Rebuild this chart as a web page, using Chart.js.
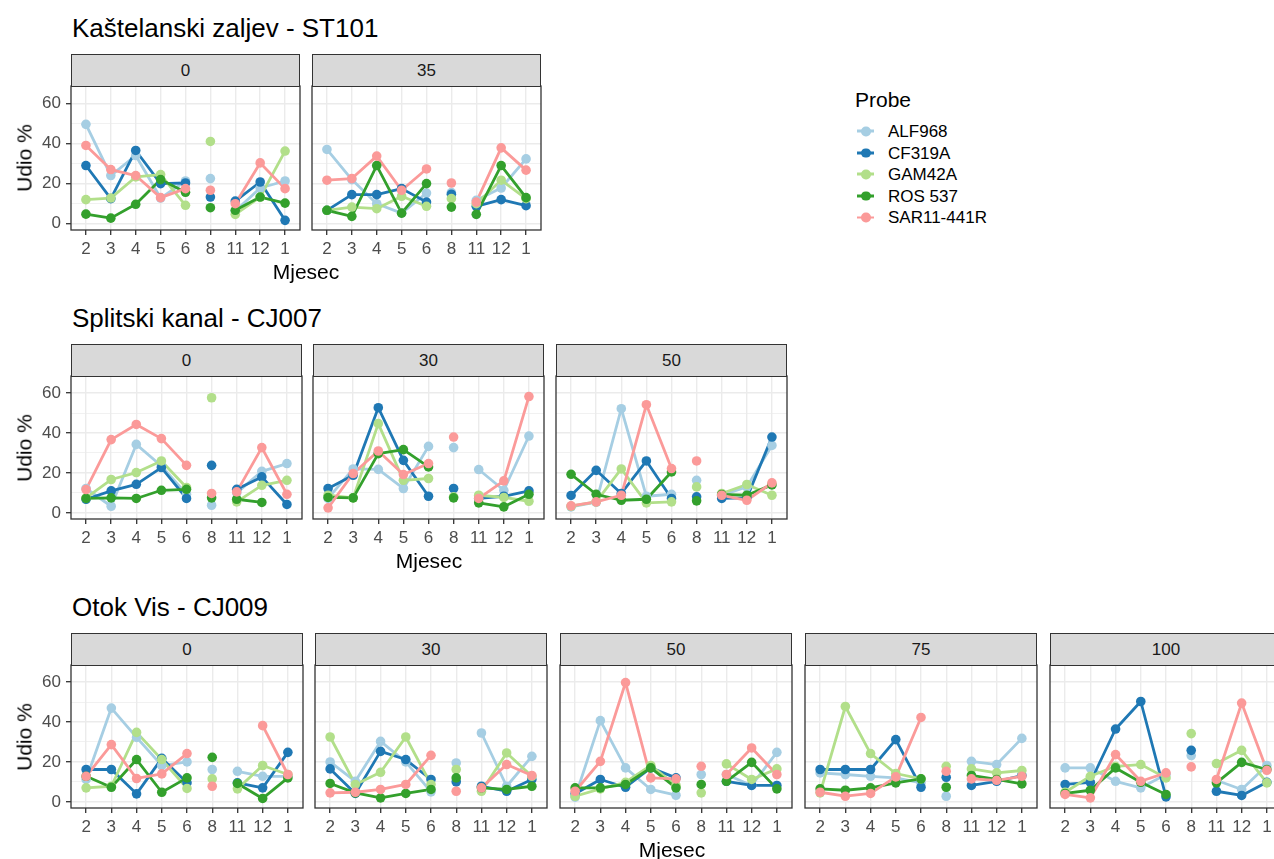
<!DOCTYPE html>
<html>
<head>
<meta charset="utf-8">
<script src="https://cdn.jsdelivr.net/npm/chart.js@4.4.1/dist/chart.umd.min.js"></script>
<style>
  body { margin: 0; background: #fff; width: 1274px; height: 859px; position: relative; overflow: hidden;
         font-family: "Liberation Sans", Arial, sans-serif; }
  .t { position: absolute; white-space: nowrap; line-height: 1; transform: translateY(-50%); }
  .title { font-size: 26px; color: #000; }
  .axis-title { font-size: 21px; color: #000; }
  .strip { position: absolute; box-sizing: border-box; background: #d9d9d9; border: 1.3px solid #333;
           font-size: 17px; color: #1a1a1a; display: flex; align-items: center; justify-content: center; }
  .key { position: absolute; width: 17px; height: 9px; transform: translateY(-50%); }
  .key i { position: absolute; left: 0; top: 3.2px; width: 17px; height: 2.8px; }
  .key b { position: absolute; left: 4px; top: 0; width: 9.5px; height: 9.5px; border-radius: 50%; }
  canvas { position: absolute; }
</style>
</head>
<body>
<script>
// start: data
const months = ['2', '3', '4', '5', '6', '8', '11', '12', '1']
const probes = ['ALF968', 'CF319A', 'GAM42A', 'ROS 537', 'SAR11-441R']
const probeColors = ['#a6cee3', '#1f78b4', '#b2df8a', '#33a02c', '#fb9a99']
const yMajor = [0, 20, 40, 60]
const yMinor = [10, 30, 50]
const lineBreaks = [4, 5]   // no samples in months 7, 9, 10

// rows: ALF968, CF319A, GAM42A, ROS 537, SAR11-441R
const st101_0 = [
    [49.5, 24, 34, 12.8, 21.3, 22.5, 6.3, 17.8, 21.3],
    [29, 12.5, 36.5, 20, 20.3, 13.3, 11.3, 20.8, 1.7],
    [12, 12.8, 23.3, 24.5, 9.2, 41, 4.7, 13.3, 36.2],
    [4.8, 2.8, 9.7, 22, 15.7, 8, 6.7, 13.3, 10.3],
    [39, 27, 24, 13, 17.5, 16.7, 10, 30.3, 17.5]
]
const st101_35 = [
    [37, 22, 10, 5.3, 15.3, 15.5, 11.7, 17.8, 32.3],
    [6.7, 14.5, 14.5, 17.5, 10.8, 14.7, 8.7, 12, 9],
    [6.7, 8.3, 7.5, 13.7, 8.7, 12.5, 10, 21.7, 12.5],
    [6.7, 3.7, 29, 5.3, 20, 8.3, 4.7, 29, 13],
    [21.7, 22.5, 33.7, 16.7, 27.3, 20.3, 10.8, 37.8, 26.7]
]
const cj007_0 = [
    [12.2, 3.3, 34.3, 23.5, 9.3, 3.8, 10, 20.8, 24.7],
    [6.8, 11, 14.3, 22.7, 7.2, 23.8, 11.8, 18, 4.2],
    [7.5, 16.7, 20.2, 26, 12.7, 57.7, 5.5, 13.8, 16.3],
    [7.2, 7.5, 7.2, 11.3, 11.8, 7.5, 6.8, 5.2, null],
    [11.7, 36.7, 44.3, 37.2, 23.8, 9.7, 10.5, 32.7, 9.3]
]
const cj007_30 = [
    [7.2, 22, 21.8, 12.2, 33.3, 32.7, 21.7, 11.3, 38.5],
    [12.2, 18.8, 52.7, 26.3, 8.3, 12.2, 7.2, 8.3, 11],
    [8.8, 7.5, 44.7, 16.3, 17.2, 8, 8.8, 7.7, 5.8],
    [7.7, 7.5, 29.7, 31.7, 23, 7.5, 5, 3, 9.3],
    [2.5, 19.7, 31, 19.2, 24.7, 38, 7.2, 16, 58.3]
]
const cj007_50 = [
    [3, 5.3, 52.2, 8.3, 9.3, 16.3, 8.8, 13, 33.8],
    [8.7, 21.3, 9.7, 26, 7.2, 8, 7.2, 7.5, 38],
    [3.3, 5.5, 22, 5, 5.5, 13, 9.7, 14.2, 8.8],
    [19.3, 9.3, 6.3, 6.8, 20.5, 6, 9.2, 8.8, 14],
    [3.5, 5.5, 8.8, 54.2, 22.2, 26, 8.8, 6.3, 15]
]
const cj009_0 = [
    [11.2, 47, 32.3, 18.2, 20, 16.2, 15.3, 12.8, 12.8],
    [16.2, 16.2, 4, 21.8, 9.5, null, 9.5, 7, 24.8],
    [7, 7.8, 34.8, 21.2, 6.7, 11.5, 6.5, 18.2, 13.7],
    [12.8, 7.3, 21.2, 4.8, 12, 22.3, 9.2, 1.7, 12],
    [12.8, 28.7, 11.7, 14, 24.2, 7.8, null, 38.2, 13.7]
]
const cj009_30 = [
    [20, 10.3, 30.3, 20, 5, 19.5, 34.5, 7.8, 22.8],
    [16.5, 4.2, 25.3, 21.2, 11.2, 10, 7.8, 5.3, 11.2],
    [32.5, 8.7, 14.8, 32.5, 8.7, 16.2, 5.3, 24.5, 12.8],
    [9.2, 4.5, 2, 4.2, 6.2, 12, 7, 6.2, 7.8],
    [4.5, 4.8, 6.2, 8.7, 23.3, 5.3, 7, 18.7, 13.2]
]
const cj009_50 = [
    [2.3, 40.7, 17, 6.2, 3.3, 13.7, 13.7, 8.2, 24.8],
    [4, 11.2, 7.3, 17, 12, null, 10.3, 8.2, 8.2],
    [2.8, 6.5, 9.8, 18.2, 8.2, 4.5, 19, 11.2, 16.5],
    [7, 7, 8.7, 17, 7, 8.7, 10.3, 19.8, 6.5],
    [5.3, 20.3, 59.8, 12, 11.5, 17.8, 13.7, 27, 13.7]
]
const cj009_75 = [
    [14.5, 13.7, 12.8, 12, 9.5, 2.8, 20.3, 18.7, 31.8],
    [16.2, 16.2, 16.2, 31.2, 7.3, 12.3, 8.2, 10.3, 13.2],
    [4.5, 47.8, 24.2, 14.2, 11.5, 17.8, 16.5, 14.5, 15.7],
    [6.5, 5.8, 7, 9.5, 11.5, 7.3, 13.2, 11.2, 9],
    [4.8, 2.8, 4.2, 12.5, 42.3, 15.3, 11.5, 10.8, 12.8]
]
const cj009_100 = [
    [17, 17, 10.3, 7, 13.7, 23.2, 10.8, 6.2, 18.2],
    [8.7, 9.8, 36.5, 50.3, 2.5, 25.8, 5.3, 3.2, 9.8],
    [4.8, 12.8, 17.8, 18.7, 12, 34.2, 19.2, 25.8, 9.5],
    [4.2, 5.8, 17, 9.8, 3.7, null, 9.5, 19.8, 16.2],
    [3.7, 2, 23.7, 10.3, 14.5, 17.5, 11.2, 49.5, 15.8]
]
// end: data

const rows = [
    { title: 'Kaštelanski zaljev - ST101', top: 86, bottom: 230, lefts: [71, 312], width: 229, mid: 306,
      depths: ['0', '35'], data: [st101_0, st101_35] },
    { title: 'Splitski kanal - CJ007', top: 376, bottom: 519, lefts: [71, 313, 556], width: 231, mid: 429,
      depths: ['0', '30', '50'], data: [cj007_0, cj007_30, cj007_50] },
    { title: 'Otok Vis - CJ009', top: 665, bottom: 808, lefts: [71, 315, 560, 805, 1050], width: 232, mid: 672,
      depths: ['0', '30', '50', '75', '100'], data: [cj009_0, cj009_30, cj009_50, cj009_75, cj009_100] }
]

Chart.defaults.font.family = '"Liberation Sans", Arial, sans-serif'
Chart.defaults.animation = false

const panelBorder = {
    id: 'panelBorder',
    afterDraw(chart) {
        const a = chart.chartArea, ctx = chart.ctx
        ctx.save()
        ctx.strokeStyle = '#333'
        ctx.lineWidth = 1.3
        ctx.strokeRect(a.left, a.top, a.right - a.left, a.bottom - a.top)
        ctx.restore()
    }
}

function addText(cls, text, x, y) {
    const d = document.createElement('div')
    d.className = 't ' + cls
    d.textContent = text
    d.style.left = x + 'px'
    d.style.top = y + 'px'
    document.body.appendChild(d)
    return d
}

// kill the label overhang padding so every panel keeps the same plot box
function noPad(sc) {
    sc.paddingTop = 0
    sc.paddingBottom = 0
    sc.paddingLeft = 0
    sc.paddingRight = 0
}

function makePanel(row, i) {
    const first = i === 0
    const padL = first ? 0 : 2
    const yW = first ? 51 : 0
    const xH = 30
    const cv = document.createElement('canvas')
    cv.width = yW + padL + row.width + 2
    cv.height = row.bottom - row.top + 2 + xH
    cv.style.left = (row.lefts[i] - yW - padL) + 'px'
    cv.style.top = (row.top - 2) + 'px'
    document.body.appendChild(cv)

    // strip
    const s = document.createElement('div')
    s.className = 'strip'
    s.textContent = row.depths[i]
    s.style.left = row.lefts[i] + 'px'
    s.style.top = (row.top - 32) + 'px'
    s.style.width = row.width + 'px'
    s.style.height = '33px'
    document.body.appendChild(s)

    const values = row.data[i]
    const datasets = []
    probes.forEach(function (p, k) {
        const pts = months.map(function (m, j) { return { x: j, y: values[k][j] } })
        const col = probeColors[k]
        datasets.push({
            label: p, data: pts, borderColor: col, borderWidth: 2.8, pointRadius: 0,
            borderJoinStyle: 'round', order: 20 - k,
            segment: { borderColor: function (c) { return lineBreaks.includes(c.p0DataIndex) ? 'transparent' : col } }
        })
        datasets.push({
            label: p, data: pts, showLine: false, pointRadius: 4.8, pointHoverRadius: 4.8,
            backgroundColor: col, borderColor: col, pointBorderWidth: 0, order: 10 - k
        })
    })

    new Chart(cv, {
        type: 'line',
        data: { datasets: datasets },
        plugins: [panelBorder],
        options: {
            responsive: false,
            devicePixelRatio: 1,
            layout: { autoPadding: false, padding: { top: 2, right: 2, left: padL, bottom: 0 } },
            plugins: { legend: { display: false }, tooltip: { enabled: false } },
            events: [],
            scales: {
                x: {
                    type: 'linear', min: -0.6, max: 8.6,
                    afterBuildTicks: function (sc) { sc.ticks = months.map(function (m, j) { return { value: j } }) },
                    afterFit: function (sc) { sc.height = xH; noPad(sc) },
                    border: { display: false },
                    grid: { color: '#ebebeb', lineWidth: 1.4, tickColor: '#333', tickLength: 5, tickWidth: 1.3 },
                    ticks: {
                        autoSkip: false, maxRotation: 0, padding: 4, color: '#4d4d4d', font: { size: 17 },
                        callback: function (v) { return months[v] }
                    }
                },
                y: {
                    min: -3.1, max: 68.6,
                    afterBuildTicks: function (sc) {
                        sc.ticks = yMajor.concat(yMinor).sort(function (a, b) { return a - b }).map(function (v) { return { value: v } })
                    },
                    afterFit: function (sc) { sc.width = yW; noPad(sc) },
                    border: { display: false },
                    grid: {
                        color: '#ebebeb', drawTicks: first, tickLength: 5, tickWidth: 1.3,
                        lineWidth: function (c) { return yMajor.includes(c.tick.value) ? 1.4 : 0.7 },
                        tickColor: function (c) { return yMajor.includes(c.tick.value) ? '#333' : 'transparent' }
                    },
                    ticks: {
                        display: first, autoSkip: false, padding: 5, color: '#4d4d4d', font: { size: 17 },
                        callback: function (v) { return yMajor.includes(v) ? String(v) : '' }
                    }
                }
            }
        }
    })
}

rows.forEach(function (row) {
    addText('title', row.title, 72, row.top - 58)
    row.depths.forEach(function (d, i) { makePanel(row, i) })
    const ylab = addText('axis-title', 'Udio %', 24, (row.top + row.bottom) / 2)
    ylab.style.transform = 'translate(-50%, -50%) rotate(-90deg)'
    const xlab = addText('axis-title', 'Mjesec', row.mid, row.bottom + 41)
    xlab.style.transform = 'translate(-50%, -50%)'
})

// legend
addText('axis-title', 'Probe', 855, 99)
probes.forEach(function (p, k) {
    const y = 131 + 21.6 * k
    const key = document.createElement('div')
    key.className = 'key'
    key.style.left = '857px'
    key.style.top = y + 'px'
    key.innerHTML = '<i></i><b></b>'
    key.querySelector('i').style.background = probeColors[k]
    key.querySelector('b').style.background = probeColors[k]
    document.body.appendChild(key)
    const lab = addText('', p, 888, y)
    lab.style.fontSize = '17px'
})
</script>
</body>
</html>
